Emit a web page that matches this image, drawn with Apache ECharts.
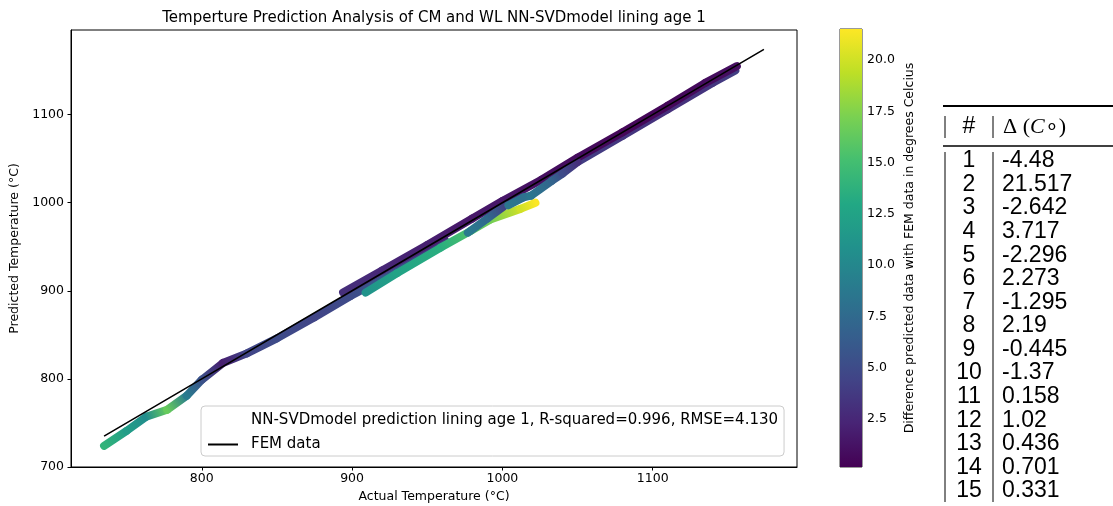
<!DOCTYPE html>
<html>
<head>
<meta charset="utf-8">
<title>Temperture Prediction Analysis</title>
<script src="https://cdn.jsdelivr.net/npm/echarts@6/dist/echarts.min.js"></script>
<style>
  html, body { margin: 0; padding: 0; background: #fff; }
  #chart { width: 1113px; height: 506px; }
</style>
</head>
<body>
<div id="chart"></div>
<script>
// prediction traces: actual temp, predicted temp, colour value (difference, °C)
const actualA = [735, 750, 763, 777, 790, 800, 814, 830, 850, 875, 899, 920, 945, 962]
const predA = [724, 741, 757, 765, 781, 799, 818, 829, 846, 870, 894, 913, 938, 957]
const diffA = [14.0, 12.0, 10.5, 16.5, 9.0, 5.5, 2.0, 4.5, 5.0, 4.5, 5.0, 6.0, 4.0, 3.0]

const actualB = [909, 930, 959, 979, 992, 1012, 1022]
const predB = [898, 920, 949, 968, 981, 993, 1000]
const diffB = [11.0, 12.5, 13.5, 15.5, 17.0, 20.0, 21.5]

const actualC = [894, 920, 950, 980, 1000, 1026, 1050, 1080, 1110, 1135, 1156]
const predC = [898, 923, 952, 982, 1002, 1026, 1051, 1080, 1110, 1136, 1155]
const diffC = [3.0, 2.5, 2.0, 1.5, 1.5, 1.0, 0.8, 0.5, 0.5, 0.8, 1.0]

const actualD = [977, 990, 1002]
const predD = [966, 982, 997]
const diffD = [9.0, 7.5, 4.0]

const actualE = [1004, 1014, 1019, 1033, 1040, 1050]
const predE = [997, 1006, 1008, 1025, 1033, 1046]
const diffE = [8.5, 8.0, 8.5, 7.0, 5.0, 3.0]

const actualF = [1050, 1080, 1110, 1140, 1155]
const predF = [1046, 1076, 1106, 1136, 1150]
const diffF = [4.0, 3.5, 3.0, 3.5, 4.0]

// FEM reference (actual = predicted)
const femTemps = [735, 800, 900, 1000, 1100, 1174]

const xTicks = [800, 900, 1000, 1100]
const yTicks = [700, 800, 900, 1000, 1100]
const colorMin = 0.158
const colorMax = 21.517
const colorTicks = [2.5, 5, 7.5, 10, 12.5, 15, 17.5, 20]

// table on the right
const tableIds = [1, 2, 3, 4, 5, 6, 7, 8, 9, 10, 11, 12, 13, 14, 15]
const tableDeltas = [-4.48, 21.517, -2.642, 3.717, -2.296, 2.273, -1.295, 2.19, -0.445, -1.37, 0.158, 1.02, 0.436, 0.701, 0.331]

const predName = 'NN-SVDmodel prediction lining age 1, R-squared=0.996, RMSE=4.130'

const viridis = ['#440154', '#482475', '#414487', '#355f8d', '#2a788e', '#21918c',
  '#22a884', '#44bf70', '#7ad151', '#bddf26', '#fde725']

function hexToRgb(h) {
  return [1, 3, 5].map(i => parseInt(h.slice(i, i + 2), 16))
}
function viridisColor(v) {
  let t = (v - colorMin) / (colorMax - colorMin)
  t = Math.max(0, Math.min(1, t))
  const pos = t * (viridis.length - 1)
  const i = Math.min(Math.floor(pos), viridis.length - 2)
  const f = pos - i
  const a = hexToRgb(viridis[i])
  const b = hexToRgb(viridis[i + 1])
  const c = a.map((x, k) => Math.round(x + (b[k] - x) * f))
  return 'rgb(' + c.join(',') + ')'
}

function toSegments(xs, ys, ds) {
  const out = []
  for (let i = 0; i < xs.length - 1; i++) {
    out.push([xs[i], ys[i], xs[i + 1], ys[i + 1], ds[i], ds[i + 1]])
  }
  return out
}

const segments = [].concat(
  toSegments(actualF, predF, diffF),
  toSegments(actualA, predA, diffA),
  toSegments(actualC, predC, diffC),
  toSegments(actualB, predB, diffB),
  toSegments(actualD, predD, diffD),
  toSegments(actualE, predE, diffE)
)

const font = 'DejaVu Sans'
const tickSize = 12.5

// table graphics
const tableFont = '23px "Liberation Sans"'
const rowStart = 161
const rowStep = 23.57
const tableGraphics = [
  { type: 'line', shape: { x1: 943, y1: 106, x2: 1113, y2: 106 }, style: { stroke: '#000', lineWidth: 2 } },
  { type: 'line', shape: { x1: 945, y1: 116, x2: 945, y2: 138 }, style: { stroke: '#000', lineWidth: 1 } },
  { type: 'line', shape: { x1: 993, y1: 116, x2: 993, y2: 138 }, style: { stroke: '#000', lineWidth: 1 } },
  { type: 'line', shape: { x1: 943, y1: 146, x2: 1113, y2: 146 }, style: { stroke: '#000', lineWidth: 1.3 } },
  { type: 'line', shape: { x1: 945, y1: 152, x2: 945, y2: 502 }, style: { stroke: '#000', lineWidth: 1 } },
  { type: 'line', shape: { x1: 993, y1: 152, x2: 993, y2: 502 }, style: { stroke: '#000', lineWidth: 1 } },
  {
    type: 'text', x: 969, y: 127,
    style: { text: '#', font: tableFont, fill: '#000', align: 'center', verticalAlign: 'middle' }
  },
  {
    type: 'text', x: 1003, y: 127,
    style: {
      text: '{d|Δ} ({c|C}∘)',
      font: '22px "Liberation Serif"', fill: '#000', align: 'left', verticalAlign: 'middle',
      rich: {
        d: { font: '22px "Liberation Serif"', fill: '#000' },
        c: { font: 'italic 22px "Liberation Serif"', fill: '#000' }
      }
    }
  }
]
tableIds.forEach((id, i) => {
  const y = rowStart + i * rowStep
  tableGraphics.push({
    type: 'text', x: 969, y: y,
    style: { text: String(id), font: tableFont, fill: '#000', align: 'center', verticalAlign: 'middle' }
  })
  tableGraphics.push({
    type: 'text', x: 1002, y: y,
    style: { text: String(tableDeltas[i]), font: tableFont, fill: '#000', align: 'left', verticalAlign: 'middle' }
  })
})

const chart = echarts.init(document.getElementById('chart'))
chart.setOption({
  animation: false,
  backgroundColor: '#fff',
  title: {
    text: 'Temperture Prediction Analysis of CM and WL NN-SVDmodel lining age 1',
    left: 434,
    top: 11,
    textAlign: 'center',
    padding: 0,
    textStyle: { fontFamily: font, fontSize: 15, fontWeight: 'normal', color: '#000' }
  },
  legend: {
    orient: 'vertical',
    left: 201,
    top: 406,
    padding: [6, 6, 4, 6],
    itemWidth: 30,
    itemHeight: 16,
    itemGap: 9,
    backgroundColor: 'rgba(255,255,255,0.8)',
    borderColor: '#cccccc',
    borderWidth: 1,
    borderRadius: 4,
    textStyle: { fontFamily: font, fontSize: 15, color: '#000', padding: [0, 0, 0, 8] },
    data: [
      { name: predName, icon: 'rect', itemStyle: { color: 'rgba(0,0,0,0)', borderWidth: 0 } },
      { name: 'FEM data', itemStyle: { opacity: 0 } }
    ]
  },
  grid: [
    {
      left: 71, top: 30, width: 726, height: 437,
      show: true, borderColor: '#000', borderWidth: 1,
      outerBoundsMode: 'none'
    },
    {
      left: 840, top: 29, width: 22, height: 438,
      show: true, borderColor: '#000', borderWidth: 0.8,
      outerBoundsMode: 'none'
    }
  ],
  xAxis: [
    {
      type: 'value', gridIndex: 0, min: 713, max: 1196,
      name: 'Actual Temperature (°C)', nameLocation: 'middle', nameGap: 18,
      nameTextStyle: { fontFamily: font, fontSize: tickSize, color: '#000' },
      axisLine: { show: true, onZero: false, lineStyle: { color: '#000', width: 1 } },
      axisTick: { show: true, length: 3.5, customValues: xTicks, lineStyle: { color: '#000' } },
      axisLabel: {
        customValues: xTicks, margin: 5, fontFamily: font, fontSize: tickSize, color: '#000',
        formatter: v => String(v)
      },
      splitLine: { show: false }
    },
    {
      type: 'value', gridIndex: 1, min: 0, max: 1, show: false
    }
  ],
  yAxis: [
    {
      type: 'value', gridIndex: 0, min: 700, max: 1196,
      name: 'Predicted Temperature (°C)', nameLocation: 'middle', nameGap: 46,
      nameTextStyle: { fontFamily: font, fontSize: tickSize, color: '#000' },
      axisLine: { show: true, onZero: false, lineStyle: { color: '#000', width: 1 } },
      axisTick: { show: true, length: 3.5, customValues: yTicks, lineStyle: { color: '#000' } },
      axisLabel: {
        customValues: yTicks, margin: 7, fontFamily: font, fontSize: tickSize, color: '#000',
        formatter: v => String(v)
      },
      splitLine: { show: false }
    },
    {
      type: 'value', gridIndex: 1, position: 'right', min: colorMin, max: colorMax,
      name: 'Difference predicted data with FEM data in degrees Celcius',
      nameLocation: 'middle', nameGap: 41,
      nameTextStyle: { fontFamily: font, fontSize: tickSize, color: '#000' },
      axisLine: { show: false },
      axisTick: { show: true, length: 3.5, customValues: colorTicks, lineStyle: { color: '#000' } },
      axisLabel: {
        customValues: colorTicks, margin: 5, fontFamily: font, fontSize: tickSize, color: '#000',
        formatter: v => v.toFixed(1)
      },
      splitLine: { show: false }
    }
  ],
  series: [
    {
      name: predName,
      type: 'custom',
      xAxisIndex: 0,
      yAxisIndex: 0,
      itemStyle: { color: 'rgba(0,0,0,0)' },
      encode: { x: [0, 2], y: [1, 3] },
      data: segments,
      z: 2,
      renderItem: function (params, api) {
        const p1 = api.coord([api.value(0), api.value(1)])
        const p2 = api.coord([api.value(2), api.value(3)])
        return {
          type: 'line',
          shape: { x1: p1[0], y1: p1[1], x2: p2[0], y2: p2[1] },
          style: {
            stroke: new echarts.graphic.LinearGradient(p1[0], p1[1], p2[0], p2[1], [
              { offset: 0, color: viridisColor(api.value(4)) },
              { offset: 1, color: viridisColor(api.value(5)) }
            ], true),
            lineWidth: 8,
            lineCap: 'round'
          }
        }
      }
    },
    {
      name: 'FEM data',
      type: 'line',
      xAxisIndex: 0,
      yAxisIndex: 0,
      data: femTemps.map(t => [t, t]),
      symbol: 'none',
      z: 5,
      itemStyle: { color: '#000' },
      lineStyle: { color: '#000', width: 1.6 }
    },
    {
      name: 'colorbar',
      type: 'custom',
      xAxisIndex: 1,
      yAxisIndex: 1,
      encode: { x: [0, 2], y: [1, 3] },
      data: [[0, colorMin, 1, colorMax]],
      renderItem: function (params, api) {
        const lo = api.coord([api.value(0), api.value(1)])
        const hi = api.coord([api.value(2), api.value(3)])
        return {
          type: 'rect',
          shape: { x: lo[0], y: hi[1], width: hi[0] - lo[0], height: lo[1] - hi[1] },
          style: {
            fill: new echarts.graphic.LinearGradient(0, 1, 0, 0,
              viridis.map((c, i) => ({ offset: i / (viridis.length - 1), color: c })))
          }
        }
      }
    }
  ],
  graphic: tableGraphics
})
</script>
</body>
</html>
